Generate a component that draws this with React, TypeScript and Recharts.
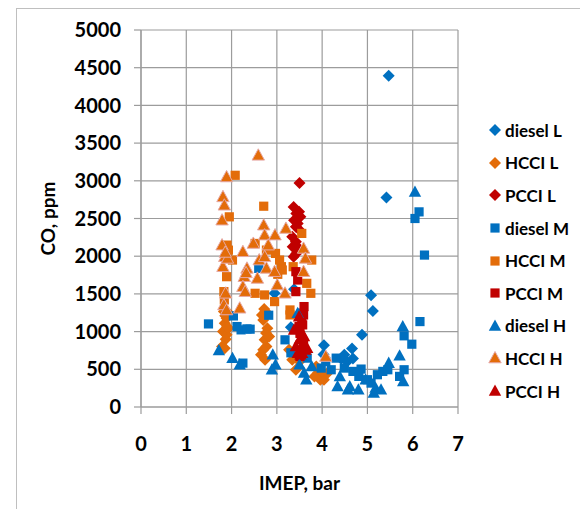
import { ScatterChart, Scatter, XAxis, YAxis, CartesianGrid } from 'recharts';

// IMEP (bar), CO (ppm) pairs
const dieselL = [
  [5.47, 4392], [5.42, 2778], [5.08, 1481], [5.12, 1274], [4.88, 957], [4.66, 776],
  [4.68, 644], [4.49, 692], [4.04, 820], [4.03, 697], [3.38, 1561], [3.31, 1058],
  [3.49, 1235], [2.95, 1508], [4.42, 640], [4.55, 600],
];
const hcciL = [
  [1.79, 802], [1.85, 780], [1.81, 1001], [1.89, 957], [1.93, 1045], [1.85, 1111],
  [1.89, 1177], [1.83, 1265], [1.94, 1243], [1.87, 900], [1.9, 1060], [1.86, 1210],
  [2.65, 692], [2.74, 626], [2.77, 802], [2.73, 891], [2.79, 1045], [2.7, 1155],
  [2.75, 1265], [2.67, 1221], [2.83, 935], [2.72, 1300], [2.7, 760], [2.76, 980],
  [3.27, 758], [3.34, 626], [3.42, 494], [3.5, 604], [3.87, 538], [3.91, 450],
  [3.99, 406], [4.04, 362], [4.12, 450], [3.96, 362], [3.83, 406], [4.0, 470],
];
const pcciL = [
  [3.5, 2972], [3.37, 2654], [3.43, 2566], [3.49, 2588], [3.38, 2478], [3.46, 2434],
  [3.42, 2390], [3.52, 2522], [3.5, 2346], [3.34, 2258], [3.42, 2191], [3.35, 2125],
  [3.49, 2103], [3.37, 1993], [3.43, 2037],
];
const dieselM = [
  [1.49, 1102], [2.04, 1208], [2.12, 1067], [2.21, 1023], [2.34, 1036], [2.41, 1032],
  [2.25, 582], [2.82, 1217], [3.18, 891], [3.31, 719], [3.67, 648], [3.98, 516],
  [4.08, 604], [4.2, 494], [4.31, 648], [4.49, 516], [4.68, 472], [4.86, 503],
  [4.81, 406], [5.0, 362], [5.08, 317], [5.22, 428], [5.34, 472], [5.45, 494],
  [5.71, 406], [5.81, 494], [5.81, 944], [5.98, 833], [6.16, 1133], [6.26, 2015],
  [6.14, 2588], [6.05, 2500], [2.6, 1839],
];
const hcciM = [
  [2.08, 3073], [1.95, 2522], [2.71, 2663], [1.9, 2147], [1.89, 1971], [2.02, 1949],
  [1.89, 1728], [1.83, 1530], [1.84, 1420], [2.97, 2037], [3.1, 1861], [3.06, 1949],
  [3.12, 1817], [2.95, 1398], [3.29, 1287], [3.29, 1221], [3.36, 1861], [3.55, 2302],
  [3.77, 1949], [3.66, 1640], [3.75, 1508], [2.52, 1508], [2.73, 1486], [2.52, 2169],
  [2.77, 2081], [1.93, 2080], [3.02, 1760],
];
const pcciM = [
  [3.42, 1795], [3.46, 1684], [3.42, 1530], [3.6, 1332], [3.59, 1221], [3.55, 1155],
  [3.57, 1089], [3.51, 979], [3.59, 847], [3.55, 758], [3.51, 670], [3.49, 1067],
];
const dieselH = [
  [1.72, 750], [2.02, 648], [2.18, 560], [2.91, 692], [2.89, 494], [2.97, 560],
  [3.46, 1243], [3.5, 560], [3.6, 450], [3.65, 362], [3.77, 538], [4.34, 273],
  [4.39, 406], [4.57, 229], [4.61, 273], [4.8, 229], [4.96, 362], [5.14, 185],
  [5.18, 251], [5.3, 229], [5.47, 582], [5.71, 679], [5.78, 1067], [5.79, 340],
  [6.05, 2853],
];
const hcciH = [
  [2.59, 3338], [1.89, 3051], [1.81, 2787], [1.84, 2676], [1.79, 2478], [1.79, 2147],
  [1.85, 1993], [1.81, 1861], [1.91, 1971], [1.87, 1508], [1.83, 1354], [1.89, 1287],
  [2.18, 1310], [2.25, 2059], [2.34, 1839], [2.28, 1728], [2.25, 1596], [2.3, 1530],
  [2.48, 2169], [2.61, 1949], [2.71, 2412], [2.73, 2280], [2.81, 2147], [2.96, 2280],
  [2.73, 1993], [2.77, 1839], [2.95, 1795], [3.01, 1618], [3.18, 1508], [3.2, 2368],
  [2.57, 1706], [3.59, 2103], [3.63, 1971], [3.59, 1795], [4.08, 670], [1.86, 2050],
  [2.32, 1780],
];
const pcciH = [
  [3.38, 1023], [3.42, 802], [3.46, 714], [3.5, 891], [3.55, 979], [3.59, 802],
  [3.63, 758], [3.52, 692], [3.56, 714], [3.67, 780], [3.49, 1199], [3.6, 935],
];

const xTicks = [0, 1, 2, 3, 4, 5, 6, 7];
const yTicks = [0, 500, 1000, 1500, 2000, 2500, 3000, 3500, 4000, 4500, 5000];

const BLUE = '#0070C0';
const ORANGE = '#E36C09';
const RED = '#C00000';
const GRID = '#9c9c9c';
const FONT = 'Lato, "Liberation Sans", sans-serif';

type Kind = 'diamond' | 'square' | 'triangle';

function markerPath(kind: Kind, cx: number, cy: number) {
  if (kind === 'diamond') {
    const r = 6;
    return `M${cx},${cy - r}L${cx + r},${cy}L${cx},${cy + r}L${cx - r},${cy}Z`;
  }
  if (kind === 'square') {
    const h = 4.6;
    return `M${cx - h},${cy - h}H${cx + h}V${cy + h}H${cx - h}Z`;
  }
  return `M${cx},${cy - 6.5}L${cx + 6.2},${cy + 4.8}L${cx - 6.2},${cy + 4.8}Z`;
}

const series = [
  { name: 'diesel L', data: dieselL, color: BLUE, kind: 'diamond' as Kind },
  { name: 'HCCI L', data: hcciL, color: ORANGE, kind: 'diamond' as Kind },
  { name: 'PCCI L', data: pcciL, color: RED, kind: 'diamond' as Kind },
  { name: 'diesel M', data: dieselM, color: BLUE, kind: 'square' as Kind },
  { name: 'HCCI M', data: hcciM, color: ORANGE, kind: 'square' as Kind },
  { name: 'PCCI M', data: pcciM, color: RED, kind: 'square' as Kind },
  { name: 'diesel H', data: dieselH, color: BLUE, kind: 'triangle' as Kind },
  { name: 'HCCI H', data: hcciH, color: ORANGE, kind: 'triangle' as Kind, edge: '#E6A9A6' },
  { name: 'PCCI H', data: pcciH, color: RED, kind: 'triangle' as Kind },
];

const tickStyle = { fill: '#000', fontSize: 20, fontWeight: 700, fontFamily: FONT };

export default function App() {
  return (
    <div style={{ position: 'absolute', left: 0, top: 0, width: 580, height: 509, background: '#fff', overflow: 'hidden' }}>
      <div
        style={{
          position: 'absolute',
          left: 16,
          top: 8,
          width: 600,
          height: 520,
          border: '1px solid #bfbfbf',
        }}
      />
      <div style={{ position: 'absolute', left: 0, top: 0 }}>
        <ScatterChart width={580} height={509} margin={{ top: 30, right: 122, bottom: 0, left: 0 }}>
          <CartesianGrid stroke={GRID} strokeWidth={1.2} />
          <XAxis
            type="number"
            dataKey="x"
            domain={[0, 7]}
            ticks={xTicks}
            interval={0}
            height={102}
            tickSize={7}
            tickMargin={23}
            axisLine={{ stroke: GRID, strokeWidth: 1.2 }}
            tickLine={{ stroke: GRID, strokeWidth: 1.2 }}
            tick={tickStyle}
            label={{
              value: 'IMEP, bar',
              position: 'insideBottom',
              offset: 19,
              style: { fill: '#000', fontSize: 19, fontWeight: 700, fontFamily: FONT },
            }}
          />
          <YAxis
            type="number"
            dataKey="y"
            domain={[0, 5000]}
            ticks={yTicks}
            interval={0}
            width={141}
            tickSize={7}
            tickMargin={13}
            axisLine={{ stroke: GRID, strokeWidth: 1.2 }}
            tickLine={{ stroke: GRID, strokeWidth: 1.2 }}
            tick={tickStyle}
            label={{
              value: 'CO, ppm',
              angle: -90,
              position: 'insideLeft',
              offset: 48,
              style: { textAnchor: 'middle', fill: '#000', fontSize: 19, fontWeight: 700, fontFamily: FONT },
            }}
          />
          {series.map((s) => (
            <Scatter
              key={s.name}
              name={s.name}
              data={s.data.map(([x, y]) => ({ x, y }))}
              isAnimationActive={false}
              shape={(p: any) => (
                <path
                  d={markerPath(s.kind, p.cx, p.cy)}
                  fill={s.color}
                  stroke={s.edge ?? 'none'}
                  strokeWidth={s.edge ? 1 : 0}
                />
              )}
            />
          ))}
        </ScatterChart>
      </div>
      <div style={{ position: 'absolute', left: 485, top: 114, fontFamily: FONT }}>
        {series.map((s) => (
          <div key={s.name} style={{ height: 32.6, display: 'flex', alignItems: 'center' }}>
            <svg width={20} height={16} style={{ display: 'block' }}>
              <path
                d={markerPath(s.kind, 10, 8)}
                fill={s.color}
                stroke={s.edge ?? 'none'}
                strokeWidth={s.edge ? 1 : 0}
              />
            </svg>
            <span style={{ fontSize: 17, fontWeight: 700, color: '#000', whiteSpace: 'nowrap' }}>{s.name}</span>
          </div>
        ))}
      </div>
    </div>
  );
}
